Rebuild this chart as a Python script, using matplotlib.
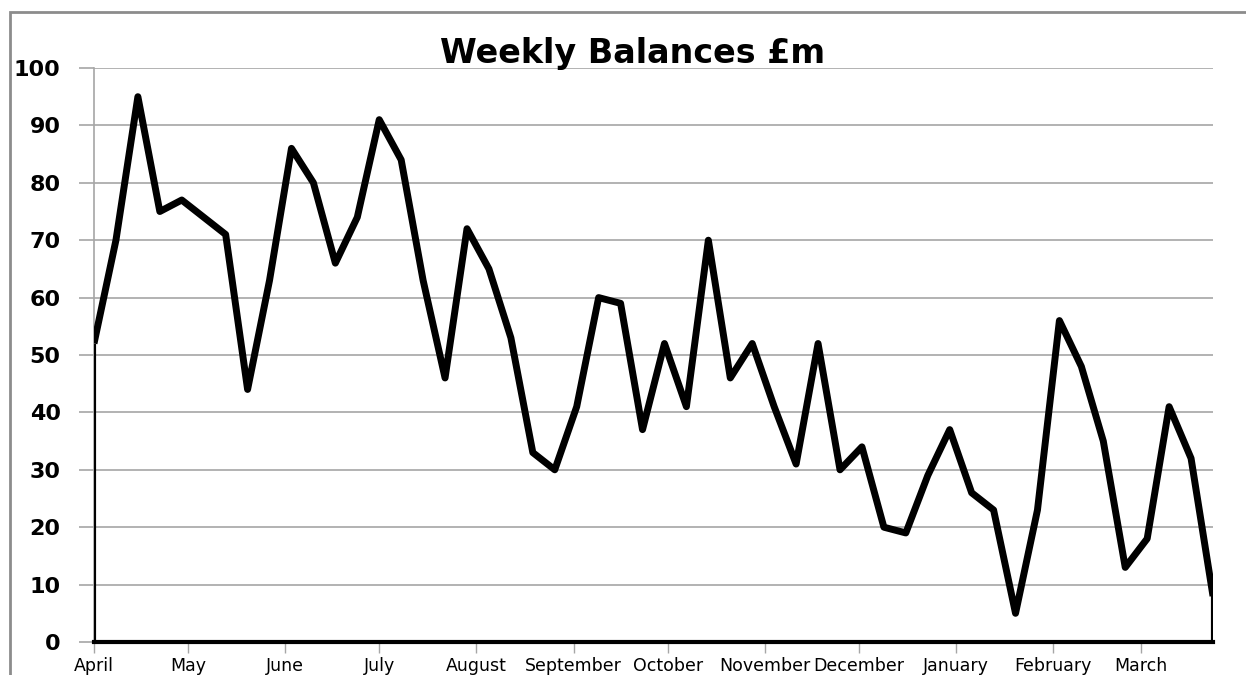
import numpy as np
import matplotlib.pyplot as plt
from matplotlib.patches import Rectangle

# %% DATA
balances = [52, 70, 95, 75, 77, 74, 71, 44, 63, 86, 80, 66, 74, 91, 84, 63, 46, 72,
            65, 53, 33, 30, 41, 60, 59, 37, 52, 41, 70, 46, 52, 41, 31, 52, 30, 34,
            20, 19, 29, 37, 26, 23, 5, 23, 56, 48, 35, 13, 18, 41, 32, 8]
days = [7 * i for i in range(len(balances))]   # one point per week from 1 April

months = ['April', 'May', 'June', 'July', 'August', 'September', 'October',
          'November', 'December', 'January', 'February', 'March']
month_start = [0, 30, 61, 91, 122, 153, 183, 214, 244, 275, 306, 334]
y_ticks = [0, 10, 20, 30, 40, 50, 60, 70, 80, 90, 100]

# %% PLOT
fig = plt.figure(figsize=(12.46, 6.75), dpi=100)
ax = fig.add_axes([94 / 1246, 1 - 642 / 675, (1213 - 94) / 1246, (642 - 68) / 675])

# grey frame round the chart area
fig.patches.append(Rectangle((10 / 1246, -0.1), 1.2, 1 - 12 / 675 + 0.1,
                             transform=fig.transFigure, fill=False,
                             edgecolor='#8c8c8c', lw=2))

ax.plot(days, balances, color='black', lw=5, solid_joinstyle='round',
        solid_capstyle='butt', zorder=3)
ax.vlines([days[0], days[-1]], 0, [balances[0], balances[-1]], color='black', lw=3, zorder=3)

ax.set_xlim(days[0], days[-1])
ax.set_ylim(0, 100)
ax.set_yticks(y_ticks)
ax.set_yticklabels([str(v) for v in y_ticks], fontsize=16, fontweight='bold',
                   family='DejaVu Sans')
ax.set_xticks(month_start)
ax.set_xticklabels(months, fontsize=12.5, family='DejaVu Sans')

ax.grid(axis='y', color='#a6a6a6', lw=1.2)
ax.set_axisbelow(True)
ax.tick_params(axis='y', length=11, width=1.2, color='#a6a6a6', pad=13)
ax.tick_params(axis='x', length=8, width=1, color='#a6a6a6', pad=2.5)

for side in ['top', 'right']:
    ax.spines[side].set_visible(False)
ax.spines['left'].set_color('#a6a6a6')
ax.spines['left'].set_linewidth(1.2)
ax.spines['bottom'].set_color('black')
ax.spines['bottom'].set_linewidth(3)
ax.spines['bottom'].set_zorder(4)

fig.text(633 / 1246, 1 - 63 / 675, 'Weekly Balances £m', ha='center', va='baseline',
         fontsize=24, fontweight='bold', family='DejaVu Sans')

plt.savefig('out.png', dpi=100)
